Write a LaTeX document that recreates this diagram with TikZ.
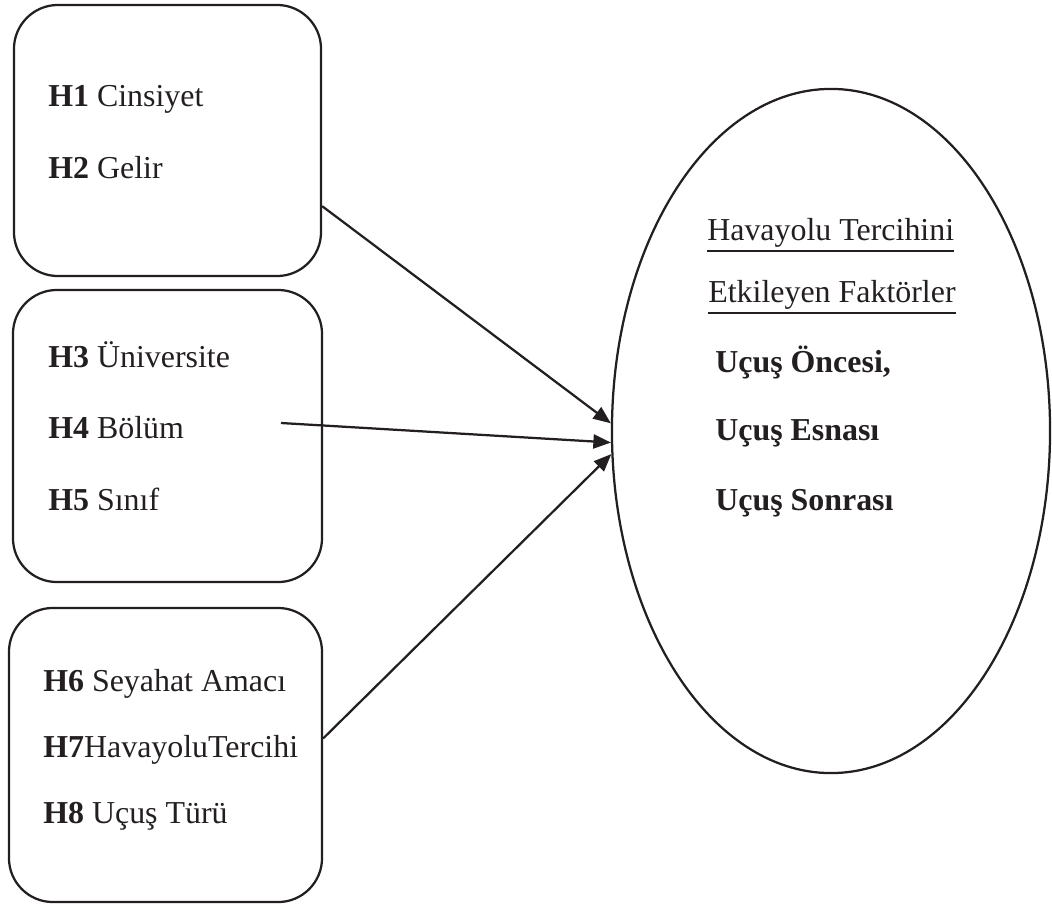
\documentclass[tikz,border=0pt]{standalone}
\usepackage{fontspec}
\setmainfont{Liberation Serif}
\usepackage{tikz}
\usetikzlibrary{shapes.geometric,arrows.meta}
\definecolor{ink}{RGB}{35,31,32}

\begin{document}
\begin{tikzpicture}[x=0.025cm, y=-0.025cm,
  box/.style={draw=ink, line width=1.6pt, rounded corners=1.1cm, inner sep=0pt},
  item/.style={text=ink, inner sep=0pt, anchor=base west, font=\fontsize{22.7pt}{27pt}\selectfont},
  uline/.style={draw=ink, line width=1.3pt},
  link/.style={draw=ink, line width=1.6pt, -{Triangle[length=12.5pt,width=10pt]}}]
\useasboundingbox (0,0) rectangle (1052,907);

% left boxes
\node [box, minimum width=7.675cm, minimum height=6.775cm] (g1) at (167.5,140.5) {};
\node [box, minimum width=7.725cm, minimum height=7.3cm] (g2) at (167.5,436) {};
\node [box, minimum width=7.825cm, minimum height=7.35cm] (g3) at (165.5,755) {};

\node [item] (h1) at (48,107) {\textbf{H1} Cinsiyet};
\node [item] (h2) at (48,178) {\textbf{H2} Gelir};

\node [item] (h3) at (48,367) {\textbf{H3} Üniversite};
\node [item] (h4) at (48,438) {\textbf{H4} Bölüm};
\node [item] (h5) at (48,510) {\textbf{H5} Sınıf};

\node [item] (h6) at (43,691) {\textbf{H6} Seyahat Amacı};
\node [item] (h7) at (43,757) {\textbf{H7}HavayoluTercihi};
\node [item] (h8) at (43,823) {\textbf{H8} Uçuş Türü};

% factors
\node [ellipse, draw=ink, line width=1.6pt, inner sep=0pt,
       minimum width=10.95cm, minimum height=17.1cm] (fac) at (831,431) {};

\node [item] (t1) at (707,240) {Havayolu Tercihini};
\node [item] (t2) at (708,302) {Etkileyen Faktörler};
\draw [uline] ([yshift=-0.28cm]t1.base west) -- ([yshift=-0.28cm]t1.base east);
\draw [uline] ([yshift=-0.28cm]t2.base west) -- ([yshift=-0.28cm]t2.base east);
\foreach \n/\y/\t in {f1/372/Uçuş Öncesi{,}, f2/440/Uçuş Esnası, f3/510/Uçuş Sonrası}
  \node [item] (\n) at (715,\y) {\textbf{\t}};

% arrows
\coordinate (s2) at (281,423);
\draw [link] (g1.-23.7) -- (fac.178.4);
\draw [link] (s2) -- (fac.183);
\draw [link] (g3.6.2) -- (fac.186.5);
\end{tikzpicture}
\end{document}
